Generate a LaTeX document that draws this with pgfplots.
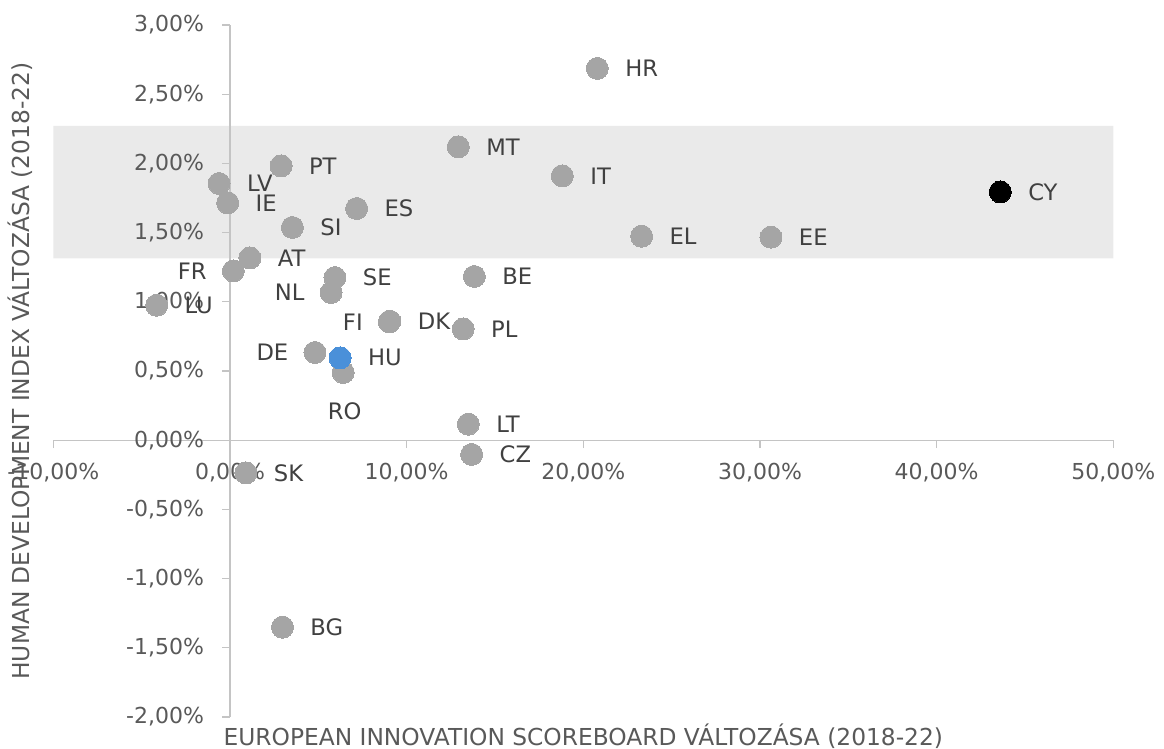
\documentclass[border=0pt]{standalone}
\usepackage{fontspec}
\setmainfont{DejaVu Sans}
\usepackage{pgfplots}
\usepackage{pgfplotstable}
\pgfplotsset{compat=1.18}
\definecolor{ptgray}{HTML}{A5A5A5}
\definecolor{ptblue}{HTML}{4A90D9}
\definecolor{bandgray}{HTML}{EAEAEA}
\definecolor{axgray}{HTML}{C4C4C4}
\definecolor{lblgray}{HTML}{404040}
\definecolor{tickgray}{HTML}{595959}
\pgfplotsset{layers/mylayers/.define layer set={axis background,axis grid,axis ticks,axis lines,main,axis tick labels,axis descriptions,axis foreground}{}}
\pgfplotsset{
  dot/.style={only marks, color=#1, mark=*, mark size=8.25pt, mark options={draw=#1, fill=#1, line width=0pt},
    point meta=explicit symbolic, nodes near coords},
  lblright/.style={every node near coord/.style={anchor=west, xshift=21pt, inner sep=0pt, text=lblgray, font=\fontsize{17}{20}\selectfont}},
  lblleft/.style={every node near coord/.style={anchor=east, xshift=-20pt, inner sep=0pt, text=lblgray, font=\fontsize{17}{20}\selectfont}},
  lblbelow/.style={every node near coord/.style={anchor=center, xshift=1pt, yshift=-29pt, inner sep=0pt, text=lblgray, font=\fontsize{17}{20}\selectfont}},
}

% labels to the right of the point
\pgfplotstableread{
name x y
HR 20.79 2.686
MT 12.92 2.12
IT 18.81 1.91
EL 23.30 1.474
EE 30.62 1.467
BE 13.83 1.183
PL 13.20 0.804
LT 13.49 0.116
CZ 13.68 -0.103
SK 0.90 -0.236
BG 2.97 -1.351
LU -4.15 0.975
SE 5.94 1.175
AT 1.13 1.317
SI 3.53 1.537
ES 7.17 1.674
PT 2.89 1.982
LV -0.62 1.855
IE -0.13 1.715
DK 9.05 0.860
}\grayRight

% labels to the left of the point
\pgfplotstableread{
name x y
DE 4.81 0.634
NL 5.72 1.067
FR 0.19 1.223
FI 9.02 0.855
}\grayLeft

% label below the point
\pgfplotstableread{
name x y
RO 6.41 0.489
}\grayBelow

\pgfplotstableread{
name x y
HU 6.23 0.595
}\huData

\pgfplotstableread{
name x y
CY 43.60 1.794
}\cyData

\begin{document}
\begin{tikzpicture}
\begin{axis}[
  set layers=mylayers,
  at={(0,0)}, anchor=south west,
  width=795pt, height=519pt, scale only axis,
  xmin=-10, xmax=50, ymin=-2, ymax=3,
  axis lines=middle,
  axis line style={-, draw=axgray, line width=1pt},
  clip=false,
  hide obscured x ticks=false,
  hide obscured y ticks=false,
  xtick={-10,0,10,20,30,40,50},
  xticklabels={{-10,00\%},{0,00\%},{10,00\%},{20,00\%},{30,00\%},{40,00\%},{50,00\%}},
  ytick={-2,-1.5,-1,-0.5,0,0.5,1,1.5,2,2.5,3},
  yticklabels={{-2,00\%},{-1,50\%},{-1,00\%},{-0,50\%},{0,00\%},{0,50\%},{1,00\%},{1,50\%},{2,00\%},{2,50\%},{3,00\%}},
  tick align=outside,
  major tick length=6pt,
  tick style={draw=axgray, line width=1pt},
  minor tick num=0,
  xticklabel style={font=\fontsize{16.5}{20}\selectfont, text=tickgray, yshift=-8pt},
  yticklabel style={font=\fontsize{16.5}{20}\selectfont, text=tickgray, xshift=-10pt},
  xlabel={EUROPEAN INNOVATION SCOREBOARD VÁLTOZÁSA (2018-22)},
  ylabel={HUMAN DEVELOPMENT INDEX VÁLTOZÁSA (2018-22)},
  xlabel style={at={(axis description cs:0.5,-0.0275)}, anchor=center, font=\fontsize{17.5}{21}\selectfont, text=tickgray},
  ylabel style={at={(axis description cs:-0.0314,0.5)}, anchor=center, rotate=90, font=\fontsize{17.5}{21}\selectfont, text=tickgray},
]
\addplot[fill=bandgray, draw=none, on layer=axis background] coordinates {(-10,1.313) (50,1.313) (50,2.271) (-10,2.271) (-10,1.313)};
\addplot[dot=ptgray, lblright] table[x=x, y=y, meta=name] {\grayRight};
\addplot[dot=ptgray, lblleft] table[x=x, y=y, meta=name] {\grayLeft};
\addplot[dot=ptgray, lblbelow] table[x=x, y=y, meta=name] {\grayBelow};
\addplot[dot=ptblue, lblright] table[x=x, y=y, meta=name] {\huData};
\addplot[dot=black, lblright] table[x=x, y=y, meta=name] {\cyData};
\end{axis}
\pgfresetboundingbox
\path (-40pt,-24pt) rectangle (833pt,537.75pt);
\end{tikzpicture}
\end{document}
